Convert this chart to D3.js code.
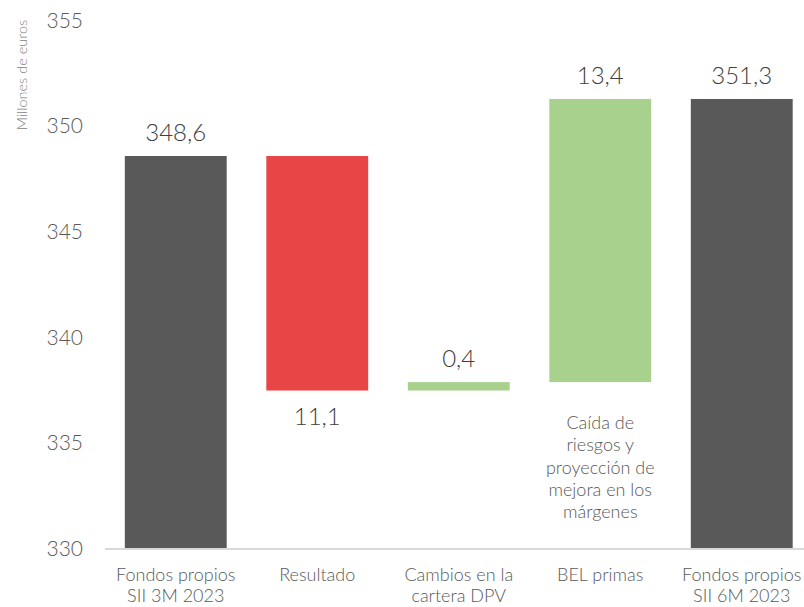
<!DOCTYPE html>
<html>
<head>
<meta charset="utf-8">
<script src="https://cdn.jsdelivr.net/npm/d3@7"></script>
<style>
  body { margin: 0; background: #fff; }
  svg { display: block; font-family: "Lato", "Open Sans", sans-serif; font-weight: 300; }
</style>
</head>
<body>
<svg width="804" height="607"></svg>
<script>
// chart data
const categories = ["Fondos propios|SII 3M 2023", "Resultado", "Cambios en la|cartera DPV", "BEL primas", "Fondos propios|SII 6M 2023"];
const values = [348.6, -11.1, 0.4, 13.4, 351.3];
const kinds = ["total", "down", "up", "up", "total"];
const valueLabels = ["348,6", "11,1", "0,4", "13,4", "351,3"];
const yTicks = [330, 335, 340, 345, 350, 355];
const noteLines = ["Caída de", "riesgos y", "proyección de", "mejora en los", "márgenes"];

var colors = { total: "#595959", down: "#e84646", up: "#a9d18e" };

// running bases for the waterfall
var bars = [];
var running = 0;
values.forEach((v, i) => {
    if (kinds[i] == "total") {
        bars.push({ cat: categories[i], y0: 330, y1: v, kind: kinds[i], label: valueLabels[i] });
        running = v;
    } else {
        bars.push({ cat: categories[i], y0: running, y1: running + v, kind: kinds[i], label: valueLabels[i] });
        running = running + v;
    }
});

var svg = d3.select('svg');

var x = d3.scaleBand()
    .domain(categories)
    .range([105, 812.5])
    .paddingInner(0.28)
    .paddingOuter(0.14);

var y = d3.scaleLinear()
    .domain([330, 355])
    .range([549, 20.8]);

// y axis labels
var yAxis = d3.axisLeft(y).tickValues(yTicks).tickSize(0).tickPadding(0).tickFormat(d3.format('d'));
var yg = svg.append('g')
    .attr('transform', 'translate(83,0)')
    .call(yAxis)
    .attr('font-family', null)
    .attr('font-size', null);
yg.select('.domain').remove();
yg.selectAll('text')
    .attr('fill', '#595959')
    .style('font-size', '21px')
    .attr('dy', '0.3em');

// y axis title
svg.append('text')
    .attr('transform', 'rotate(-90)')
    .attr('x', -75)
    .attr('y', 27)
    .attr('text-anchor', 'middle')
    .attr('fill', '#7f7f7f')
    .style('font-size', '14.5px')
    .text('Millones de euros');

// bars
svg.selectAll('rect.bar')
    .data(bars)
    .enter()
    .append('rect')
    .attr('class', 'bar')
    .attr('x', d => x(d.cat))
    .attr('width', x.bandwidth())
    .attr('y', d => y(Math.max(d.y0, d.y1)))
    .attr('height', d => Math.abs(y(d.y0) - y(d.y1)))
    .attr('fill', d => colors[d.kind]);

// baseline
svg.append('line')
    .attr('x1', 105).attr('x2', 804)
    .attr('y1', y(330)).attr('y2', y(330))
    .attr('stroke', '#d9d9d9')
    .attr('stroke-width', 2);

// value labels
svg.selectAll('text.val')
    .data(bars)
    .enter()
    .append('text')
    .attr('class', 'val')
    .attr('x', d => x(d.cat) + x.bandwidth() / 2)
    .attr('y', d => d.kind == "down" ? y(Math.min(d.y0, d.y1)) + 34 : y(Math.max(d.y0, d.y1)) - 15)
    .attr('text-anchor', 'middle')
    .attr('fill', '#404040')
    .style('font-size', '24px')
    .text(d => d.label);

// category labels
var xg = svg.append('g');
categories.forEach(c => {
    var t = xg.append('text')
        .attr('x', x(c) + x.bandwidth() / 2)
        .attr('y', 581)
        .attr('text-anchor', 'middle')
        .attr('fill', '#595959')
        .style('font-size', '18px');
    c.split('|').forEach((line, j) => {
        t.append('tspan')
            .attr('x', x(c) + x.bandwidth() / 2)
            .attr('dy', j == 0 ? 0 : 21)
            .text(line);
    });
});

// note under BEL primas
var note = svg.append('text')
    .attr('x', x(categories[3]) + x.bandwidth() / 2)
    .attr('y', 429)
    .attr('text-anchor', 'middle')
    .attr('fill', '#595959')
    .style('font-size', '18px');
noteLines.forEach((line, j) => {
    note.append('tspan')
        .attr('x', x(categories[3]) + x.bandwidth() / 2)
        .attr('dy', j == 0 ? 0 : 22.3)
        .text(line);
});
</script>
</body>
</html>
